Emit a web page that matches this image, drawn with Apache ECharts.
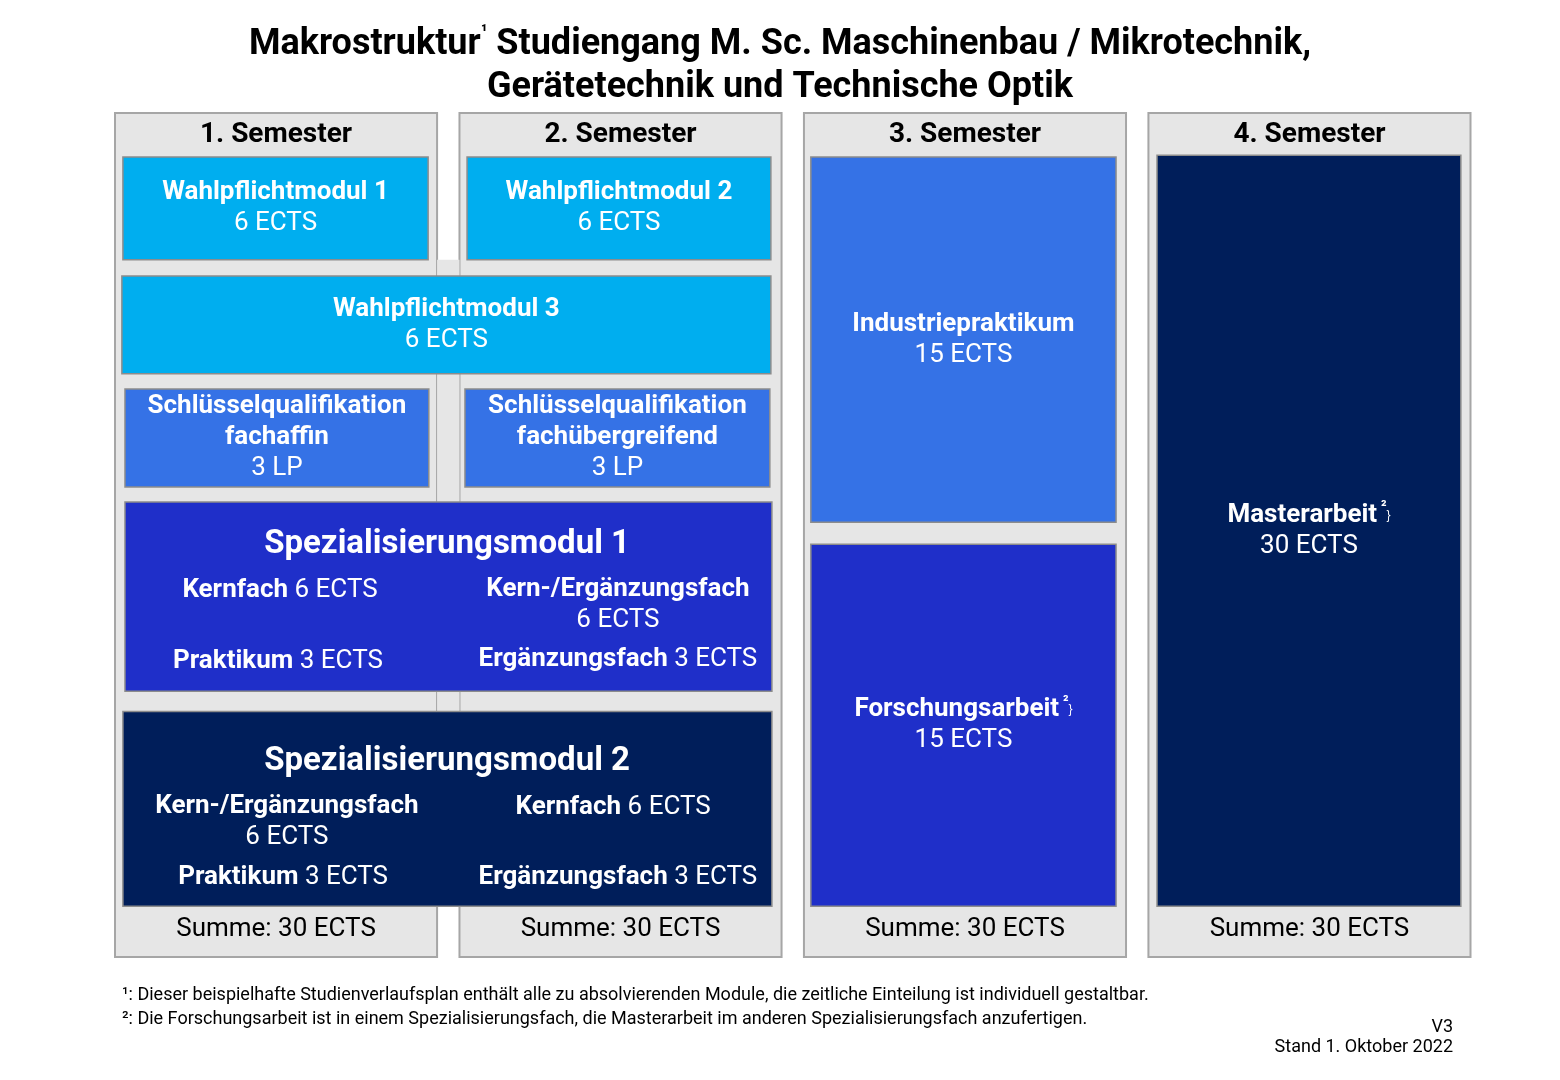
<!DOCTYPE html>
<html><head><meta charset="utf-8">
<script src="https://cdn.jsdelivr.net/npm/echarts@6/dist/echarts.min.js"></script>
<style>html,body{margin:0;background:#fff}#c{width:1560px;height:1080px}</style>
</head><body><div id="c"></div>
<script>
// x in semester units (column pitch), y in percent of panel height (top = 0)
const semesters = ['1. Semester','2. Semester','3. Semester','4. Semester'];
const sums = ['Summe: 30 ECTS','Summe: 30 ECTS','Summe: 30 ECTS','Summe: 30 ECTS'];
const blockNames = ['Wahlpflichtmodul 1','Wahlpflichtmodul 2','Wahlpflichtmodul 3','Schlüsselqualifikation\nfachaffin','Schlüsselqualifikation\nfachübergreifend','','','Industriepraktikum','Forschungsarbeit{s| ²}','Masterarbeit{s| ²}'];
const blockCredits = ['6 ECTS','6 ECTS','6 ECTS','3 LP','3 LP','','','15 ECTS','15 ECTS','30 ECTS'];
const blockX = [[0.023,0.909],[1.022,1.904],[0.020,1.904],[0.029,0.911],[1.016,1.901],[0.029,1.907],[0.023,1.907],[2.020,2.906],[2.020,2.906],[3.025,3.907]];
const blockY = [[5.2,17.4],[5.2,17.4],[19.3,30.9],[32.7,44.3],[32.7,44.3],[46.1,68.5],[70.9,94.0],[5.2,48.5],[51.1,94.0],[5.0,94.0]];
const blockColors = ['#00AEEF','#00AEEF','#00AEEF','#3572E6','#3572E6','#1F2FC9','#001E5A','#3572E6','#1F2FC9','#001E5A'];
const subTexts = [
 ['{t|Spezialisierungsmodul 1}',0.964,51.2],
 ['{b|Kernfach} 6 ECTS',0.479,56.6],
 ['{b|Kern-/Ergänzungsfach}\n6 ECTS',1.460,58.3],
 ['{b|Praktikum} 3 ECTS',0.473,65.0],
 ['{b|Ergänzungsfach} 3 ECTS',1.460,64.8],
 ['{t|Spezialisierungsmodul 2}',0.964,76.9],
 ['{b|Kern-/Ergänzungsfach}\n6 ECTS',0.499,84.0],
 ['{b|Kernfach} 6 ECTS',1.446,82.3],
 ['{b|Praktikum} 3 ECTS',0.488,90.6],
 ['{b|Ergänzungsfach} 3 ECTS',1.460,90.6]
];
const PW = 0.935;
const FONT = 'Roboto, "Liberation Sans", sans-serif';
const rich = {
  b:{fontFamily:FONT,fontWeight:'bold',fontSize:26,fill:'#fff',lineHeight:31},
  n:{fontFamily:FONT,fontSize:26,fill:'#fff',lineHeight:31},
  s:{fontFamily:FONT,fontWeight:'bold',fontSize:15,fill:'#fff',verticalAlign:'top',padding:[0,0,12,0]},
  t:{fontFamily:FONT,fontWeight:'bold',fontSize:33,fill:'#fff',lineHeight:40}
};
function rectItem(x0,x1,y0,y1,fill,stroke,api){
  const a=api.coord([x0,y0]), b=api.coord([x1,y1]);
  return {type:'rect',shape:{x:a[0],y:a[1],width:b[0]-a[0],height:b[1]-a[1]},
    style:{fill:fill,stroke:stroke||null,lineWidth:stroke?2:0}};
}
const panelData = semesters.map((s,i)=>[i,i+PW,0,100]);
panelData.push([PW,1.0,17.4,94]);
const chart = echarts.init(document.getElementById('c'));
chart.setOption({
  animation:false,
  title:{text:'Makrostruktur{s|¹} Studiengang M. Sc. Maschinenbau / Mikrotechnik,\nGerätetechnik und Technische Optik',
    left:'center',top:18,textStyle:{fontFamily:FONT,fontWeight:'bold',fontSize:36,color:'#000',lineHeight:43,
    rich:{s:{fontFamily:FONT,fontWeight:'bold',fontSize:18,verticalAlign:'top',padding:[0,0,16,0]}}}},
  grid:{left:115,top:113,width:1355.5,height:844},
  xAxis:{type:'value',min:0,max:3+PW,show:false},
  yAxis:{type:'value',min:0,max:100,inverse:true,show:false},
  graphic:[
    {type:'text',left:122,top:986,style:{text:'¹: Dieser beispielhafte Studienverlaufsplan enthält alle zu absolvierenden Module, die zeitliche Einteilung ist individuell gestaltbar.',font:'18px '+FONT,fill:'#000'}},
    {type:'text',left:122,top:1010,style:{text:'²: Die Forschungsarbeit ist in einem Spezialisierungsfach, die Masterarbeit im anderen Spezialisierungsfach anzufertigen.',font:'18px '+FONT,fill:'#000'}},
    {type:'text',right:107,top:1018,style:{text:'V3',font:'18px '+FONT,fill:'#000'}},
    {type:'text',right:107,top:1038,style:{text:'Stand 1. Oktober 2022',font:'18px '+FONT,fill:'#000'}}
  ],
  series:[
    {type:'custom',data:panelData,renderItem:(p,api)=>{
      const d=panelData[p.dataIndex];
      return rectItem(d[0],d[1],d[2],d[3],'#E6E6E6',p.dataIndex<4?'#A6A6A6':null,api);}},
    {type:'custom',data:semesters.map((s,i)=>[i+PW/2,2.6]),renderItem:(p,api)=>{
      const c=api.coord([p.dataIndex+PW/2,2.6]);
      return {type:'text',x:c[0],y:c[1],style:{text:semesters[p.dataIndex],align:'center',verticalAlign:'middle',font:'bold 28px '+FONT,fill:'#000'}};}},
    {type:'custom',data:sums.map((s,i)=>[i+PW/2,96.8]),renderItem:(p,api)=>{
      const c=api.coord([p.dataIndex+PW/2,96.8]);
      return {type:'text',x:c[0],y:c[1],style:{text:sums[p.dataIndex],align:'center',verticalAlign:'middle',font:'26px '+FONT,fill:'#000'}};}},
    {type:'custom',data:blockNames.map((n,i)=>[blockX[i][0],blockY[i][0]]),renderItem:(p,api)=>{
      const i=p.dataIndex, x=blockX[i], y=blockY[i];
      const r=rectItem(x[0],x[1],y[0],y[1],blockColors[i],'#8C8C8C',api);
      r.style.lineWidth=1.5;
      const children=[r];
      if(blockNames[i]){
        const c=api.coord([(x[0]+x[1])/2,(y[0]+y[1])/2]);
        const txt=blockNames[i].split('\n').map(l=>'{b|'+l.replace('{s|','}{s|').replace(/}$/,'}')+'}').join('\n')+'\n{n|'+blockCredits[i]+'}';
        children.push({type:'text',x:c[0],y:c[1],style:{text:txt.replace('{b|}',''),align:'center',verticalAlign:'middle',rich:rich,fill:'#fff'}});
      }
      return {type:'group',children:children};}},
    {type:'custom',data:subTexts.map(t=>[t[1],t[2]]),renderItem:(p,api)=>{
      const t=subTexts[p.dataIndex]; const c=api.coord([t[1],t[2]]);
      const txt=t[0].split('\n').map(l=>l.replace(/(^|})([^{}]+)(?={|$)/g,(m,a,b)=>a+'{n|'+b+'}')).join('\n');
      return {type:'text',x:c[0],y:c[1],style:{text:txt,align:'center',verticalAlign:'middle',rich:rich,fill:'#fff'}};}}
  ]
});
</script></body></html>
